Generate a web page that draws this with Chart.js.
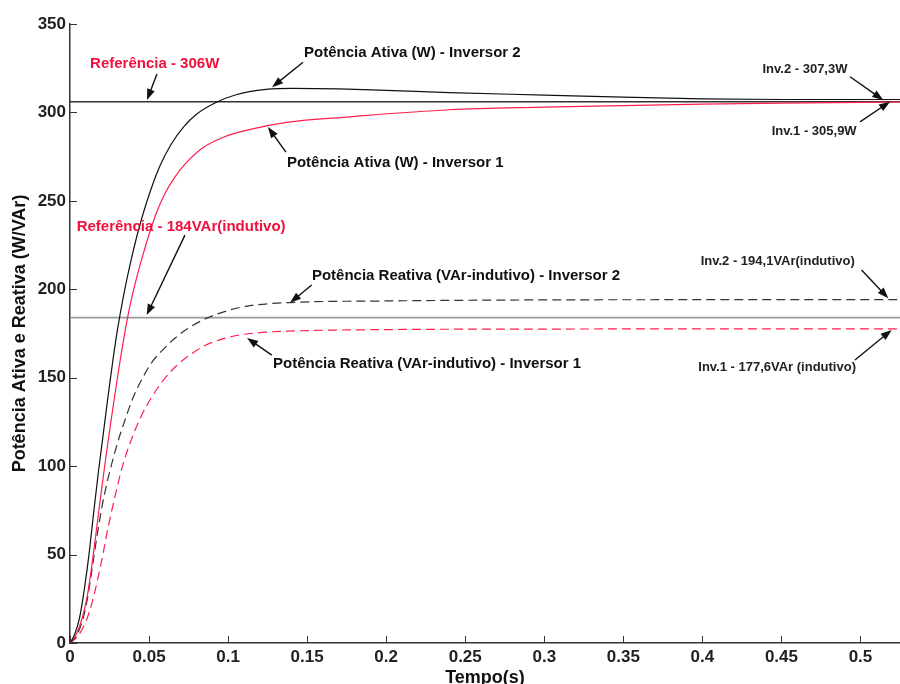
<!doctype html>
<html lang="pt">
<head>
<meta charset="utf-8">
<script src="https://cdn.jsdelivr.net/npm/chart.js@4.4.1/dist/chart.umd.min.js"></script>
<title>Potência Ativa e Reativa - Inversores</title>
<style>
  body { margin: 0; background: #fff; overflow: hidden; }
  #wrap { width: 900px; height: 684px; }
</style>
</head>
<body>
<div id="wrap"><canvas id="potenciaChart" width="900" height="684"></canvas></div>
<script>
// valores (tempo em s, potência em W / VAr)
const tempoAtiva2 = [0, 0.003, 0.006, 0.009, 0.012, 0.015, 0.018, 0.021, 0.024, 0.027, 0.030, 0.034, 0.038, 0.042, 0.046, 0.051, 0.057, 0.064, 0.072, 0.080, 0.092, 0.105, 0.124, 0.141, 0.17, 0.2, 0.24, 0.3, 0.35, 0.4, 0.45, 0.525];
const ativaInv2 = [0, 5, 14, 30, 50, 74, 97, 118, 139, 159, 177, 197, 214, 229, 242, 256, 270, 282, 292, 299, 305.5, 310, 313, 313.6, 313.3, 312.5, 311.2, 309.8, 308.6, 307.7, 307.3, 307.3];

const tempoAtiva1 = [0, 0.004, 0.008, 0.011, 0.014, 0.017, 0.020, 0.023, 0.026, 0.030, 0.034, 0.038, 0.042, 0.046, 0.050, 0.055, 0.060, 0.066, 0.073, 0.084, 0.097, 0.112, 0.137, 0.177, 0.24, 0.3, 0.35, 0.4, 0.45, 0.525];
const ativaInv1 = [0, 5, 15, 27, 45, 66, 87, 107, 126, 150, 172, 191, 206, 219, 231, 244, 254, 263, 271, 280, 286, 290, 294.4, 297.5, 301.5, 303, 303.9, 304.7, 305.3, 305.9];

const tempoReativa2 = [0, 0.004, 0.008, 0.011, 0.014, 0.017, 0.020, 0.023, 0.026, 0.030, 0.034, 0.040, 0.046, 0.052, 0.059, 0.066, 0.074, 0.086, 0.100, 0.112, 0.139, 0.2, 0.3, 0.4, 0.525];
const reativaInv2 = [0, 4, 13, 25, 42, 60, 76, 89, 100, 113, 124, 139, 150, 159, 166, 172, 177.5, 183.5, 188, 190.5, 192.5, 193.4, 194, 194.1, 194.1];

const tempoReativa1 = [0, 0.005, 0.010, 0.014, 0.018, 0.021, 0.024, 0.028, 0.032, 0.036, 0.041, 0.046, 0.052, 0.059, 0.067, 0.076, 0.086, 0.096, 0.106, 0.12, 0.133, 0.2, 0.3, 0.4, 0.525];
const reativaInv1 = [0, 4, 12, 23, 38, 51, 65, 81, 96, 108, 120, 130, 139.5, 148.5, 156.5, 163, 168.5, 171.8, 174, 175.5, 176.2, 177.2, 177.5, 177.6, 177.6];

const refAtiva = 306;
const refReativa = 184;
const tempoFinal = 0.525;

const FONTE = '"Liberation Sans", Arial, sans-serif';
const VERMELHO = '#ff1f4f';

function pares(ts, vs) {
  return ts.map((t, i) => ({ x: t, y: vs[i] }));
}

// textos e setas, em coordenadas dos dados
const notas = [
  { texto: 'Referência - 306W', cor: '#f0103c', fonte: 'bold 15px ' + FONTE, x: 0.0127, y: 327.3, de: [0.055, 321.7], para: [0.0487, 307] },
  { texto: 'Potência Ativa (W) - Inversor 2', cor: '#111', fonte: 'bold 15px ' + FONTE, x: 0.148, y: 333.5, de: [0.1474, 328.4], para: [0.1278, 314.3] },
  { texto: 'Potência Ativa (W) - Inversor 1', cor: '#111', fonte: 'bold 15px ' + FONTE, x: 0.1372, y: 271.6, de: [0.1366, 277.6], para: [0.1252, 291.7] },
  { texto: 'Referência - 184VAr(indutivo)', cor: '#f0103c', fonte: 'bold 15px ' + FONTE, x: 0.0042, y: 235.2, de: [0.0727, 230.6], para: [0.0485, 185.4] },
  { texto: 'Potência Reativa (VAr-indutivo) - Inversor 2', cor: '#111', fonte: 'bold 15px ' + FONTE, x: 0.153, y: 207.5, de: [0.1529, 202.4], para: [0.1392, 192.4] },
  { texto: 'Potência Reativa (VAr-indutivo) - Inversor 1', cor: '#111', fonte: 'bold 15px ' + FONTE, x: 0.1284, y: 157.7, de: [0.1276, 162.8], para: [0.112, 172.5] },
  { texto: 'Inv.2 - 307,3W', cor: '#222', fonte: 'bold 13px ' + FONTE, x: 0.438, y: 324.5, de: [0.4934, 320.2], para: [0.5144, 307] },
  { texto: 'Inv.1 - 305,9W', cor: '#222', fonte: 'bold 13px ' + FONTE, x: 0.4438, y: 289.4, de: [0.4997, 294.7], para: [0.5187, 306.1] },
  { texto: 'Inv.2 - 194,1VAr(indutivo)', cor: '#222', fonte: 'bold 13px ' + FONTE, x: 0.3989, y: 216, de: [0.5007, 210.9], para: [0.5176, 194.9] },
  { texto: 'Inv.1 - 177,6VAr (indutivo)', cor: '#222', fonte: 'bold 13px ' + FONTE, x: 0.3974, y: 156, de: [0.4965, 160], para: [0.5197, 177] }
];

// marcas dos eixos para dentro, como no matlab
const ticksParaDentro = {
  id: 'ticksParaDentro',
  afterDatasetsDraw(chart) {
    const { ctx, scales: { x, y } } = chart;
    ctx.save();
    ctx.strokeStyle = '#333';
    ctx.lineWidth = 1;
    x.ticks.forEach(t => {
      const px = Math.round(x.getPixelForValue(t.value)) + 0.5;
      ctx.beginPath();
      ctx.moveTo(px, y.bottom);
      ctx.lineTo(px, y.bottom - 7);
      ctx.stroke();
    });
    y.ticks.forEach(t => {
      const py = Math.round(y.getPixelForValue(t.value)) + 0.5;
      ctx.beginPath();
      ctx.moveTo(x.left, py);
      ctx.lineTo(x.left + 7, py);
      ctx.stroke();
    });
    ctx.restore();
  }
};

const anotacoes = {
  id: 'anotacoes',
  afterDraw(chart) {
    const { ctx, scales: { x, y } } = chart;
    ctx.save();
    notas.forEach(n => {
      ctx.font = n.fonte;
      ctx.fillStyle = n.cor;
      ctx.textBaseline = 'middle';
      ctx.textAlign = 'left';
      ctx.fillText(n.texto, x.getPixelForValue(n.x), y.getPixelForValue(n.y));

      const x0 = x.getPixelForValue(n.de[0]), y0 = y.getPixelForValue(n.de[1]);
      const x1 = x.getPixelForValue(n.para[0]), y1 = y.getPixelForValue(n.para[1]);
      const ang = Math.atan2(y1 - y0, x1 - x0);
      ctx.strokeStyle = '#111';
      ctx.fillStyle = '#111';
      ctx.lineWidth = 1.4;
      ctx.beginPath();
      ctx.moveTo(x0, y0);
      ctx.lineTo(x1 - 6 * Math.cos(ang), y1 - 6 * Math.sin(ang));
      ctx.stroke();
      ctx.beginPath();
      ctx.moveTo(x1, y1);
      ctx.lineTo(x1 - 11 * Math.cos(ang) + 4 * Math.sin(ang), y1 - 11 * Math.sin(ang) - 4 * Math.cos(ang));
      ctx.lineTo(x1 - 11 * Math.cos(ang) - 4 * Math.sin(ang), y1 - 11 * Math.sin(ang) + 4 * Math.cos(ang));
      ctx.closePath();
      ctx.fill();
    });
    ctx.restore();
  }
};

new Chart(document.getElementById('potenciaChart'), {
  type: 'line',
  data: {
    datasets: [
      {
        label: 'Potência Ativa (W) - Inversor 2',
        data: pares(tempoAtiva2, ativaInv2),
        borderColor: '#111',
        borderWidth: 1.2
      },
      {
        label: 'Potência Ativa (W) - Inversor 1',
        data: pares(tempoAtiva1, ativaInv1),
        borderColor: VERMELHO,
        borderWidth: 1.2
      },
      {
        label: 'Potência Reativa (VAr-indutivo) - Inversor 2',
        data: pares(tempoReativa2, reativaInv2),
        borderColor: '#333',
        borderWidth: 1.2,
        borderDash: [9, 5]
      },
      {
        label: 'Potência Reativa (VAr-indutivo) - Inversor 1',
        data: pares(tempoReativa1, reativaInv1),
        borderColor: VERMELHO,
        borderWidth: 1.2,
        borderDash: [9, 5]
      },
      {
        label: 'Referência - 306W',
        data: [{ x: 0, y: refAtiva }, { x: tempoFinal, y: refAtiva }],
        borderColor: '#333',
        borderWidth: 1.6
      },
      {
        label: 'Referência - 184VAr',
        data: [{ x: 0, y: refReativa }, { x: tempoFinal, y: refReativa }],
        borderColor: '#9a9a9a',
        borderWidth: 1.6
      }
    ]
  },
  options: {
    responsive: false,
    animation: false,
    layout: { padding: { top: 24, right: 0, left: 0, bottom: 0 } },
    elements: {
      point: { radius: 0 },
      line: { cubicInterpolationMode: 'monotone', fill: false }
    },
    plugins: {
      legend: { display: false },
      tooltip: { enabled: false }
    },
    scales: {
      x: {
        type: 'linear',
        min: 0,
        max: tempoFinal,
        afterFit: s => { s.height = 41; },
        grid: { drawOnChartArea: false, drawTicks: false },
        border: { display: true, color: '#333', width: 1.5 },
        ticks: {
          stepSize: 0.05,
          includeBounds: false,
          padding: 4,
          color: '#222',
          font: { family: FONTE, size: 17, weight: 'bold' },
          callback: v => String(+v.toFixed(2))
        },
        title: {
          display: true,
          text: 'Tempo(s)',
          color: '#111',
          font: { family: FONTE, size: 18, weight: 'bold', lineHeight: 1 },
          padding: { top: 0, bottom: -3 }
        }
      },
      y: {
        min: 0,
        max: 350,
        afterFit: s => { s.width = 70; },
        grid: { drawOnChartArea: false, drawTicks: false },
        border: { display: true, color: '#333', width: 1.5 },
        ticks: {
          stepSize: 50,
          padding: 4,
          color: '#222',
          font: { family: FONTE, size: 17, weight: 'bold' }
        },
        title: {
          display: true,
          text: 'Potência Ativa e Reativa (W/VAr)',
          color: '#111',
          font: { family: FONTE, size: 18, weight: 'bold', lineHeight: 1 },
          padding: { top: 11, bottom: 0 }
        }
      }
    }
  },
  plugins: [ticksParaDentro, anotacoes]
});
</script>
</body>
</html>
